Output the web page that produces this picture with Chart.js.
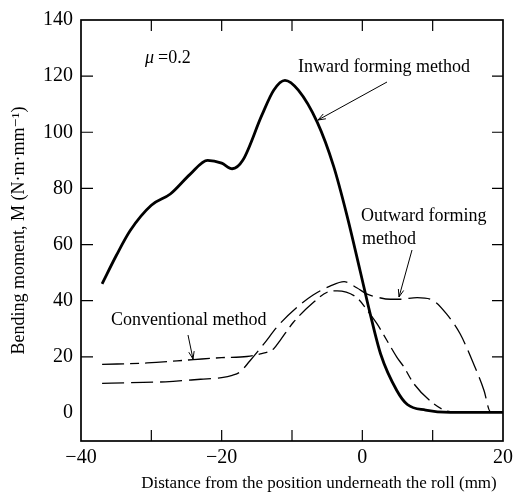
<!DOCTYPE html>
<html>
<head>
<meta charset="utf-8">
<script src="https://cdn.jsdelivr.net/npm/chart.js@4.4.0/dist/chart.umd.min.js"></script>
<style>
  html, body { margin: 0; padding: 0; background: #fff; }
  #wrap { width: 515px; height: 495px; }
</style>
</head>
<body>
<div id="wrap"><canvas id="chart" width="515" height="495"></canvas></div>
<script>
// values
var inwardX = [-37, -35, -33, -30, -27.3, -24.5, -22, -20, -18.5, -17, -14.3, -12.6, -11, -9.1, -6.4, -4.1, -2.2, -0.3, 1.1, 2.6, 4.9, 6.4, 9, 12.5, 20];
var inwardY = [46, 56, 65, 74, 78, 85, 90, 89, 87, 90, 106, 115, 118.5, 115, 103.5, 88, 70.5, 50.5, 35.5, 21, 8, 3, 1, 0.2, 0.2];

var outwardX = [-37, -33, -28, -23, -20, -18.5, -17.4, -16, -14, -12, -9.3, -7, -4.6, -2.6, -0.8, 0.7, 2, 4, 5.4, 7.8, 10.1, 12, 13.9, 15.8, 17.3, 18.2, 20];
var outwardY = [10.5, 10.8, 11.1, 12, 12.6, 13.4, 14.6, 18.5, 24.6, 31, 37.6, 42, 45.2, 46.8, 44.6, 42.3, 41.3, 40.5, 40.5, 41.1, 40, 35.2, 28.2, 17.6, 8, 0.5, 0.3];

var convX = [-37, -30.6, -24, -20, -16.4, -14.5, -12.6, -11.7, -9.8, -6.9, -5, -3.6, -0.8, 1.1, 2.1, 3.5, 4.9, 5.9, 7.3, 10.1, 12.5, 20];
var convY = [17.3, 17.8, 19, 19.7, 20.1, 21, 22.9, 25.8, 32.3, 39.5, 43, 43.5, 41.1, 35.2, 31.7, 25.8, 19.9, 16.4, 10.5, 3.4, 0.5, 0.3];

var xTicks = [-40, -20, 0, 20];
var yTicks = [0, 20, 40, 60, 80, 100, 120, 140];
var xMinor = [-30, -20, -10, 0, 10];
var yMinor = [20, 40, 60, 80, 100, 120];

function pts(xs, ys) {
    return xs.map(function (x, i) { return { x: x, y: ys[i] }; });
}

var serif = "'Liberation Serif', 'DejaVu Serif', serif";

// frame, inward ticks and the hand-drawn labels
var decorPlugin = {
    id: 'decor',
    afterDraw: function (chart) {
        var ctx = chart.ctx;
        var a = chart.chartArea;
        var xs = chart.scales.x, ys = chart.scales.y;
        ctx.save();
        ctx.strokeStyle = '#000';
        ctx.lineWidth = 1.7;
        ctx.strokeRect(a.left, a.top, a.right - a.left, a.bottom - a.top);

        ctx.lineWidth = 1.2;
        ctx.beginPath();
        xMinor.forEach(function (v) {
            var px = xs.getPixelForValue(v);
            ctx.moveTo(px, a.bottom); ctx.lineTo(px, a.bottom - 11);
            ctx.moveTo(px, a.top); ctx.lineTo(px, a.top + 11);
        });
        yMinor.forEach(function (v) {
            var py = ys.getPixelForValue(v);
            ctx.moveTo(a.left, py); ctx.lineTo(a.left + 12, py);
            ctx.moveTo(a.right, py); ctx.lineTo(a.right - 11, py);
        });
        ctx.stroke();

        // text labels
        ctx.fillStyle = '#000';
        ctx.textBaseline = 'middle';
        ctx.textAlign = 'left';
        ctx.font = 'italic 18px ' + serif;
        ctx.fillText('\u03bc', 145, 58);
        ctx.font = '18px ' + serif;
        ctx.fillText('=0.2', 158, 58);
        ctx.fillText('Inward forming method', 298, 67);
        ctx.fillText('Outward forming', 361, 216);
        ctx.fillText('method', 362, 239);
        ctx.fillText('Conventional method', 111, 320);

        // x axis title, sits a little right of centre in the original
        ctx.textAlign = 'center';
        ctx.font = '17px ' + serif;
        ctx.fillText('Distance from the position underneath the roll (mm)', 319, 484);

        // arrows
        function arrow(x1, y1, x2, y2) {
            ctx.beginPath();
            ctx.lineWidth = 1;
            ctx.moveTo(x1, y1); ctx.lineTo(x2, y2);
            ctx.stroke();
            var ang = Math.atan2(y2 - y1, x2 - x1);
            var L = 8, w = 0.35;
            ctx.beginPath();
            ctx.moveTo(x2 - L * Math.cos(ang - w), y2 - L * Math.sin(ang - w));
            ctx.lineTo(x2, y2);
            ctx.lineTo(x2 - L * Math.cos(ang + w), y2 - L * Math.sin(ang + w));
            ctx.stroke();
        }
        arrow(387, 82, 318, 120);
        arrow(412, 250, 399, 297);
        arrow(188, 335, 193, 359);
        ctx.restore();
    }
};

new Chart(document.getElementById('chart'), {
    type: 'line',
    data: {
        datasets: [
            {
                label: 'Inward forming method',
                data: pts(inwardX, inwardY),
                borderColor: '#000',
                borderWidth: 2.8,
                pointRadius: 0,
                cubicInterpolationMode: 'monotone',
                fill: false
            },
            {
                label: 'Outward forming method',
                data: pts(outwardX, outwardY),
                borderColor: '#000',
                borderWidth: 1.3,
                borderDash: [22, 7],
                pointRadius: 0,
                cubicInterpolationMode: 'monotone',
                fill: false
            },
            {
                label: 'Conventional method',
                data: pts(convX, convY),
                borderColor: '#000',
                borderWidth: 1.3,
                borderDash: [22, 6, 9, 6],
                pointRadius: 0,
                cubicInterpolationMode: 'monotone',
                fill: false
            }
        ]
    },
    options: {
        responsive: false,
        animation: false,
        layout: { padding: { top: 15, right: 12, left: 0, bottom: 0 } },
        plugins: {
            legend: { display: false },
            tooltip: { enabled: false }
        },
        scales: {
            x: {
                type: 'linear',
                min: -40,
                max: 20,
                afterBuildTicks: function (s) { s.ticks = xTicks.map(function (v) { return { value: v }; }); },
                afterFit: function (s) { s.height = 54; s.paddingRight = 0; s.paddingLeft = 0; },
                grid: { display: false, drawTicks: false },
                border: { display: false },
                ticks: {
                    color: '#000',
                    padding: 5,
                    maxRotation: 0,
                    font: { family: serif, size: 20 },
                    callback: function (v) { return v < 0 ? '\u2212' + Math.abs(v) : v; }
                },
                title: { display: false }
            },
            y: {
                type: 'linear',
                min: -10,
                max: 140,
                afterBuildTicks: function (s) { s.ticks = yTicks.map(function (v) { return { value: v }; }); },
                afterFit: function (s) { s.width = 81; },
                grid: { display: false, drawTicks: false },
                border: { display: false },
                ticks: {
                    color: '#000',
                    padding: 8,
                    font: { family: serif, size: 20 }
                },
                title: {
                    display: true,
                    text: 'Bending moment, M (N\u00b7m\u00b7mm\u207b\u00b9)',
                    color: '#000',
                    font: { family: serif, size: 18 },
                    padding: { top: 8, bottom: 0 }
                }
            }
        }
    },
    plugins: [decorPlugin]
});
</script>
</body>
</html>
